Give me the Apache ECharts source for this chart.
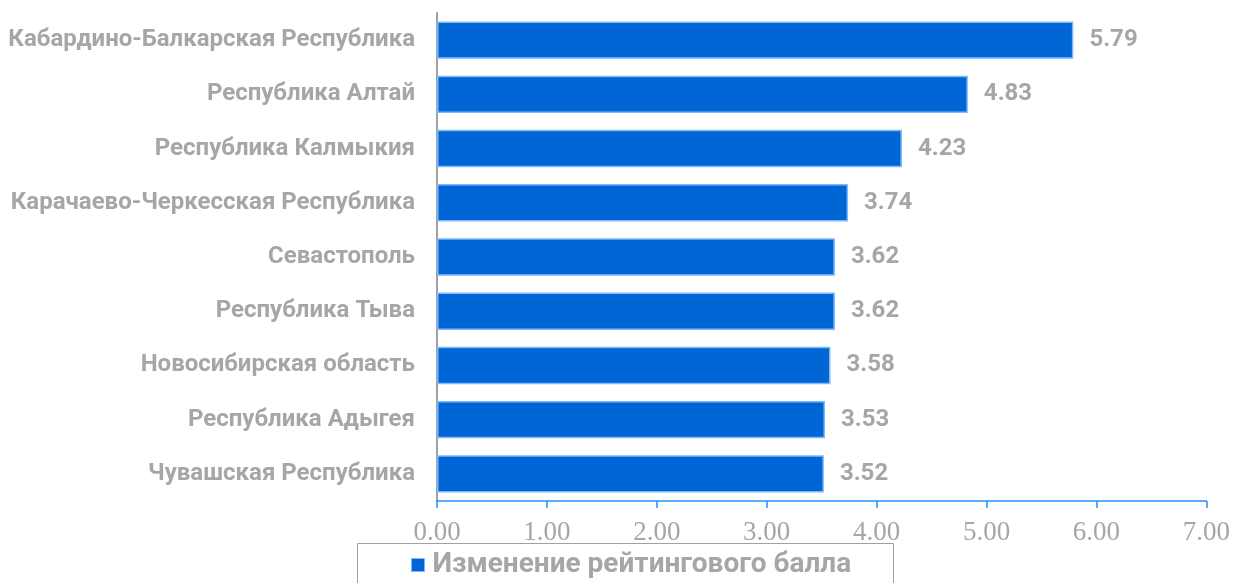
<!DOCTYPE html>
<html><head><meta charset="utf-8">
<script src="https://cdn.jsdelivr.net/npm/echarts@6/dist/echarts.min.js"></script>
<style>html,body{margin:0;padding:0;background:#fff}#c{width:1233px;height:583px}</style>
</head><body><div id="c"></div>
<script>
const categories = ["Кабардино-Балкарская Республика","Республика Алтай","Республика Калмыкия","Карачаево-Черкесская Республика","Севастополь","Республика Тыва","Новосибирская область","Республика Адыгея","Чувашская Республика"];
const values = [5.79,4.83,4.23,3.74,3.62,3.62,3.58,3.53,3.52];
const seriesName = "Изменение рейтингового балла";
const xMin = 0, xMax = 7, xStep = 1;

const chart = echarts.init(document.getElementById('c'), null, {renderer:'canvas'});
const gray = '#A6A6A6';
chart.setOption({
  animation:false,
  grid:{left:437,right:26,top:13,bottom:82,containLabel:false},
  xAxis:{type:'value',min:xMin,max:xMax,interval:xStep,
    axisLine:{show:true,lineStyle:{color:'#1E90FF',width:1.5}},
    axisTick:{show:true,length:7,lineStyle:{color:'#1E90FF',width:1.5}},
    splitLine:{show:false},
    axisLabel:{margin:18,color:gray,fontFamily:'Liberation Serif',fontSize:27,formatter:v=>v.toFixed(2)}},
  yAxis:{type:'category',data:categories,inverse:true,
    axisLine:{show:true,lineStyle:{color:'#A0A0A0',width:2}},
    axisTick:{show:false},
    axisLabel:{margin:22,color:gray,fontFamily:'Roboto',fontWeight:'bold',fontSize:24}},
  legend:{show:true,left:406,top:546,padding:5,itemWidth:13,itemHeight:13,itemGap:6,icon:'rect',
    textStyle:{color:gray,fontFamily:'Roboto',fontWeight:'bold',fontSize:28,padding:[0,0,6,3]},
    data:[{name:seriesName,itemStyle:{color:'#0066D6',borderColor:'#7FB8FF',borderWidth:1}}]},
  graphic:[{type:'rect',shape:{x:357.5,y:543.5,width:536,height:60},style:{fill:'none',stroke:'#A0A0A0',lineWidth:1}}],
  series:[{name:seriesName,type:'bar',data:values,barCategoryGap:'31%',
    itemStyle:{color:'#0066D6',borderColor:'#7FB8FF',borderWidth:1.5},
    label:{show:true,position:'right',distance:16,color:gray,fontFamily:'Roboto',fontWeight:'bold',fontSize:24,formatter:p=>p.value.toFixed(2)}}]
});
</script></body></html>
